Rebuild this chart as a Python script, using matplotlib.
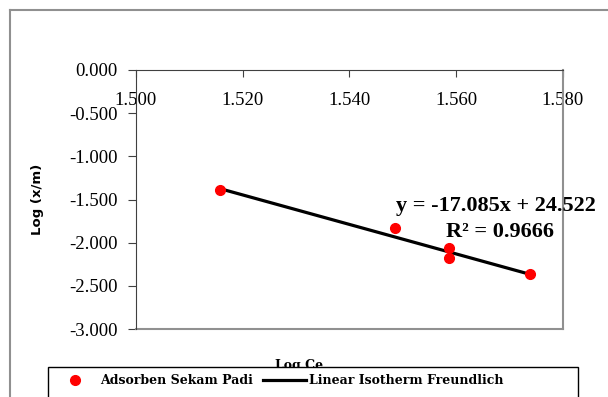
import matplotlib
matplotlib.use("Agg")
import matplotlib.pyplot as plt
from matplotlib.lines import Line2D
from matplotlib.patches import Rectangle
import numpy as np

# data
log_ce = [1.5157, 1.5485, 1.5586, 1.5586, 1.5738]
log_xm = [-1.390, -1.830, -2.062, -2.178, -2.363]
slope = -17.085
intercept = 24.522
r2 = 0.9666

xticks = [1.500, 1.520, 1.540, 1.560, 1.580]
yticks = [0.000, -0.500, -1.000, -1.500, -2.000, -2.500, -3.000]

W, H = 608, 397
fig = plt.figure(figsize=(6.08, 3.97), dpi=100)
ax = fig.add_axes([136/W, 1 - 329/H, (563 - 136)/W, (329 - 70)/H])

# trend line over the data range
xs = np.array([min(log_ce), max(log_ce)])
ax.plot(xs, slope * xs + intercept, color="black", lw=2.3, zorder=2,
        label="Linear Isotherm Freundlich")
ax.plot(log_ce, log_xm, "o", color="red", ms=7, zorder=3,
        label="Adsorben Sekam Padi")

ax.set_xlim(1.500, 1.580)
ax.set_ylim(-3.0, 0.0)

# x axis sits at y = 0 (top of plot)
ax.spines["bottom"].set_position(("data", 0))
ax.spines["bottom"].set_color("#404040")
ax.spines["left"].set_color("#404040")
ax.spines["top"].set_visible(False)
ax.spines["right"].set_color("#909090")
ax.spines["right"].set_linewidth(1.5)
ax.plot([0, 1], [0, 0], transform=ax.transAxes, color="#909090", lw=1.5,
        clip_on=False)

ax.set_xticks(xticks)
ax.set_xticklabels([f"{v:.3f}" for v in xticks])
ax.set_yticks(yticks)
ax.set_yticklabels([f"{v:.3f}" for v in yticks])
ax.tick_params(axis="x", direction="out", length=5, pad=11, labelsize=13.5,
               color="#404040")
ax.tick_params(axis="y", direction="out", length=6, pad=7, labelsize=13.5,
               color="#404040")
for lab in ax.get_xticklabels() + ax.get_yticklabels():
    lab.set_family("Liberation Serif")

ax.text(1.5487, -1.63, f"y = {slope}x + {intercept}", fontsize=16,
        fontweight="bold", family="Liberation Serif", clip_on=False)
ax.text(1.5580, -1.93, f"R² = {r2}", fontsize=16,
        fontweight="bold", family="Liberation Serif", clip_on=False)

fig.text(38/W, 1 - 199/H, "Log (x/m)", rotation=90, fontsize=9.5,
         fontweight="bold", ha="center", va="center")
fig.text(299/W, 1 - 366/H, "Log Ce", fontsize=9, fontweight="bold",
         family="DejaVu Serif", ha="center", va="center")

# outer chart border (partly visible)
fig.add_artist(Line2D([10/W, 1], [1 - 10/H, 1 - 10/H], color="#909090", lw=1.5))
fig.add_artist(Line2D([10/W, 10/W], [0, 1 - 10/H], color="#909090", lw=1.5))

# legend box runs off the bottom of the figure
fig.add_artist(Rectangle((48/W, -0.05), (578 - 48)/W, 0.05 + 1 - 367/H,
                         transform=fig.transFigure, facecolor="white",
                         edgecolor="black", lw=1.0, zorder=4))
h, l = ax.get_legend_handles_labels()
leg = fig.legend(h[::-1], l[::-1], ncol=2, loc="center left",
                 bbox_to_anchor=(54/W, 1 - 381/H), frameon=False,
                 borderpad=0, borderaxespad=0,
                 prop={"family": "DejaVu Serif", "weight": "bold", "size": 9},
                 handlelength=3.4, columnspacing=0.8, handletextpad=0.3)
leg.set_zorder(5)

fig.savefig("out.png", dpi=100)
